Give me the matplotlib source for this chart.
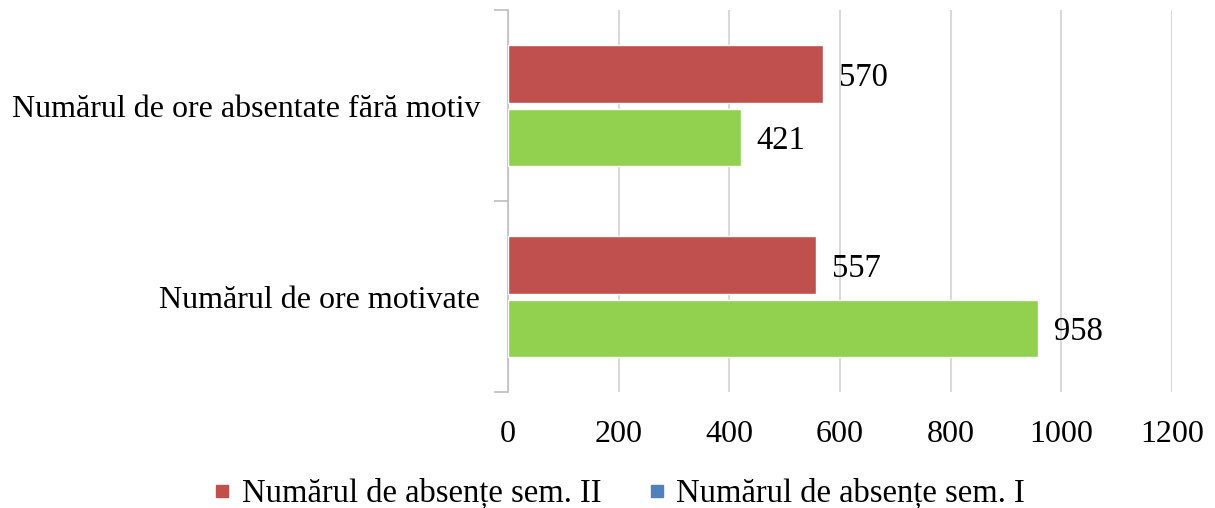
import matplotlib.pyplot as plt
from matplotlib.lines import Line2D
import numpy as np

categories = ["Numărul de ore motivate", "Numărul de ore absentate fără motiv"]
sem2 = [557, 570]
sem1 = [958, 421]
series_names = ["Numărul de absențe sem. II", "Numărul de absențe sem. I"]
xticks = [0, 200, 400, 600, 800, 1000, 1200]

red = "#C0504D"
green = "#92D050"
blue = "#4F81BD"

plt.rcParams["font.family"] = ["Liberation Serif", "DejaVu Serif"]

fig = plt.figure(figsize=(12.15, 5.08), dpi=100)
ax = fig.add_axes([0.418, 0.228, 0.5466, 0.752])

y = np.arange(len(categories))
h = 0.30
off = 0.166
b2 = ax.barh(y + off, sem2, height=h, color=red, edgecolor="white", linewidth=1, zorder=3)
b1 = ax.barh(y - off, sem1, height=h, color=green, edgecolor="white", linewidth=1, zorder=3)

for bars, vals in [(b2, sem2), (b1, sem1)]:
    for bar, v in zip(bars, vals):
        ax.text(v + 28, bar.get_y() + bar.get_height() / 2, str(v),
                va="center_baseline", ha="left", fontsize=23.5)

ax.set_xlim(0, 1200)
ax.set_ylim(-0.5, 1.5)
ax.set_xticks(xticks)
ax.set_xticklabels([str(t) for t in xticks], fontsize=23)
ax.set_yticks(y)
ax.set_yticklabels(categories, fontsize=23)
ax.set_yticks([-0.5, 0.5, 1.5], minor=True)
ax.tick_params(axis="y", which="major", length=0, pad=20)
ax.tick_params(axis="y", which="minor", length=10, color="#BFBFBF", width=1.2)
ax.tick_params(axis="x", length=0, pad=20)

ax.grid(axis="x", color="#D9D9D9", linewidth=1.5, zorder=0)
for s in ["top", "right", "bottom"]:
    ax.spines[s].set_visible(False)
ax.spines["left"].set_color("#BFBFBF")
ax.spines["left"].set_linewidth(1.2)

handles = [Line2D([], [], marker="s", linestyle="none", markersize=8, color=red),
           Line2D([], [], marker="s", linestyle="none", markersize=8, color=blue)]
fig.legend(handles, series_names, loc="lower center", bbox_to_anchor=(0.508, -0.06),
           ncol=2, frameon=False, fontsize=23.5, handletextpad=0.2, columnspacing=1.3,
           handlelength=0.8)

fig.savefig("out.png", dpi=100)
